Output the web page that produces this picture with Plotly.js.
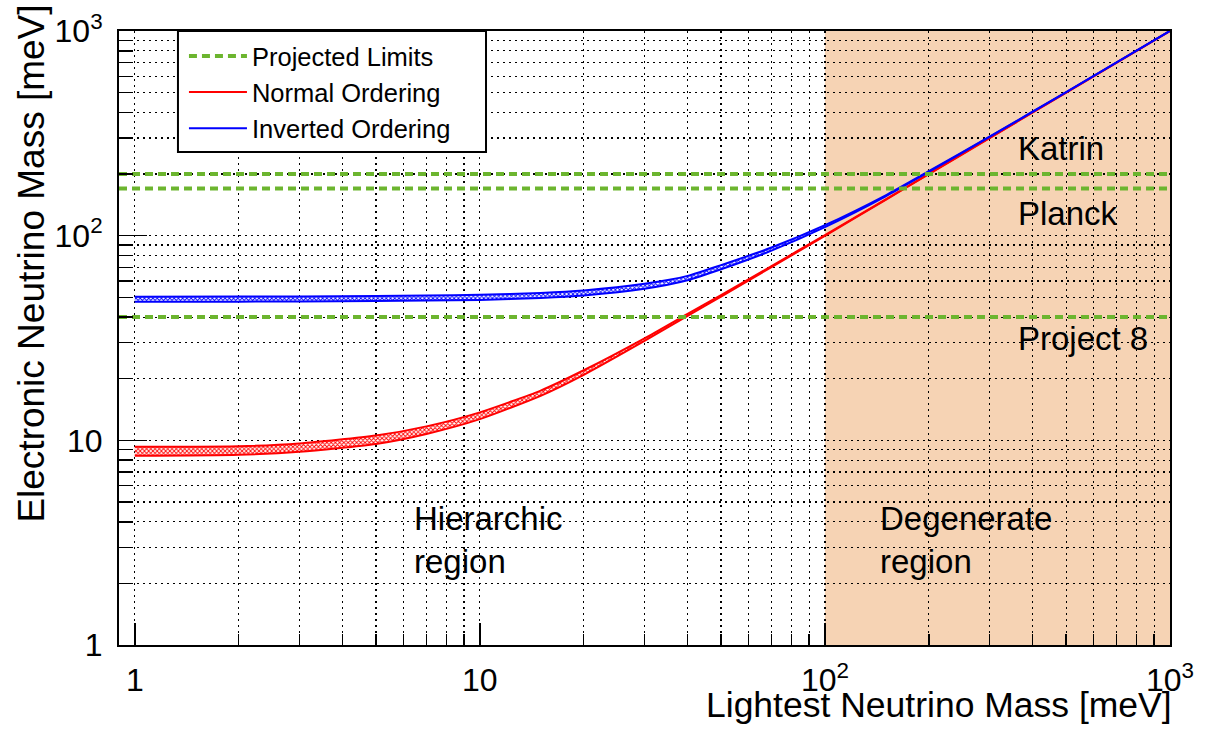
<!DOCTYPE html>
<html>
<head>
<meta charset="utf-8">
<script src="https://cdn.plot.ly/plotly-3.0.1.min.js"></script>
<style>
  html, body { margin: 0; padding: 0; background: #ffffff; }
  #chart { width: 1212px; height: 741px; }
</style>
</head>
<body>
<div id="chart"></div>
<script>
// Lightest neutrino mass [meV] at which the bands are sampled
const lightestMass = [1, 2, 3, 5, 7, 10, 15, 20, 30, 40, 50, 70, 100, 150, 200, 300, 500, 1000];

// Electron neutrino mass band, normal ordering [meV]
const normalLow  = [8.4, 8.5, 8.8, 9.6, 10.75, 12.7, 16.5, 20.9, 30.6, 40.6, 50.4, 70.2, 99.8, 149.7, 199.7, 299.7, 499.7, 999.6];
const normalHigh = [9.3, 9.35, 9.65, 10.55, 11.7, 13.7, 17.5, 22.0, 31.5, 41.5, 51.2, 71.0, 100.7, 150.6, 200.6, 300.6, 500.5, 1000.4];

// Electron neutrino mass band, inverted ordering [meV]
const invertedLow  = [47.5, 47.6, 47.7, 47.9, 48.2, 48.5, 49.6, 51.0, 55.0, 60.5, 68.5, 84.5, 110.0, 155.5, 205.0, 303.5, 502.0, 1000.8];
const invertedHigh = [50.3, 50.4, 50.5, 50.7, 51.0, 51.4, 52.5, 54.0, 58.2, 63.6, 71.8, 87.5, 112.5, 157.5, 206.5, 304.7, 503.0, 1001.5];

// Projected sensitivity limits [meV]
const limitNames  = ['Katrin', 'Planck', 'Project 8'];
const limitValues = [200, 170, 40];

// Axis extents and the degenerate-region span [meV]
const massRange = [0.9, 1000];
const electronMassRange = [1, 1000];
const degenerateRange = [100, 1000];

// Tick marks
const decadeTicks = [1, 10, 100, 1000];
const decadeLabels = ['1', '10', '10<sup>2</sup>', '10<sup>3</sup>'];
const minorTicks = [2, 3, 4, 5, 6, 7, 8, 9, 20, 30, 40, 50, 60, 70, 80, 90, 200, 300, 400, 500, 600, 700, 800, 900];

const FONT = 'Liberation Sans, Arial, Helvetica, sans-serif';
const RED = '#ff0000';
const BLUE = '#0000ff';
const GREEN = '#6cb52f';
const PEACH = '#f6d3b4';
const GRID_DASH = '2px,4px';

const traces = [];

function bandEdge(y, name, color, legend, rank, filled) {
  const t = {
    x: lightestMass, y: y, type: 'scatter', mode: 'lines',
    name: name, showlegend: legend,
    line: { color: color, width: 2, shape: 'spline', smoothing: 0.6 }
  };
  if (rank) t.legendrank = rank;
  if (filled) {
    t.fill = 'tonexty';
    t.fillcolor = color;
    t.fillpattern = { shape: 'x', fgcolor: color, bgcolor: '#ffffff', size: 3, solidity: 0.5 };
  }
  return t;
}

// Normal ordering band
traces.push(bandEdge(normalLow, 'Normal Ordering', RED, true, 2, false));
traces.push(bandEdge(normalHigh, 'Normal Ordering', RED, false, 0, true));

// Inverted ordering band
traces.push(bandEdge(invertedLow, 'Inverted Ordering', BLUE, true, 3, false));
traces.push(bandEdge(invertedHigh, 'Inverted Ordering', BLUE, false, 0, true));

// Projected limits as horizontal dashed lines across the full mass range
limitValues.forEach(function (v, i) {
  traces.push({
    x: massRange, y: [v, v], type: 'scatter', mode: 'lines',
    name: 'Projected Limits', legendgroup: 'limits', legendrank: 1,
    showlegend: i === 0,
    line: { color: GREEN, width: 4, dash: '8px,5px' }
  });
});

function logAxis(range, majorLen, minorLen) {
  return {
    type: 'log',
    range: [Math.log10(range[0]), Math.log10(range[1])],
    tickmode: 'array',
    tickvals: decadeTicks,
    ticktext: decadeLabels,
    ticks: 'inside',
    ticklen: majorLen,
    tickwidth: 1.5,
    tickcolor: '#000000',
    showgrid: true,
    gridcolor: '#000000',
    gridwidth: 1.2,
    griddash: GRID_DASH,
    minor: {
      tickmode: 'array',
      tickvals: minorTicks,
      ticks: 'inside',
      ticklen: minorLen,
      tickwidth: 1.5,
      tickcolor: '#000000',
      showgrid: true,
      gridcolor: '#000000',
      gridwidth: 1.2,
      griddash: GRID_DASH
    },
    showline: true,
    linecolor: '#000000',
    linewidth: 2,
    mirror: true,
    zeroline: false,
    layer: 'above traces',
    tickfont: { family: FONT, size: 32, color: '#000000' }
  };
}

const xaxis = logAxis(massRange, 22, 11);
xaxis.ticklabelstandoff = 6;
const yaxis = logAxis(electronMassRange, 28, 14);
yaxis.ticklabelstandoff = 8;

// Text labels, placed in log10 axis units
const labelFont = { family: FONT, size: 33, color: '#000000' };
const annotations = [
  { text: limitNames[0], x: 2.555, y: 2.428 },
  { text: limitNames[1], x: 2.555, y: 2.108 },
  { text: limitNames[2], x: 2.555, y: 1.497 },
  { text: 'Hierarchic<br>region', x: 0.804, y: 0.511 },
  { text: 'Degenerate<br>region', x: 2.153, y: 0.511 }
].map(function (a) {
  return Object.assign({
    xref: 'x', yref: 'y', xanchor: 'left', yanchor: 'middle', align: 'left',
    showarrow: false, font: labelFont
  }, a);
});

// Axis titles, right/top aligned
annotations.push({
  text: 'Lightest Neutrino Mass [meV]', xref: 'paper', yref: 'paper',
  x: 1, y: -0.0977, xanchor: 'right', yanchor: 'middle', xshift: 4,
  showarrow: false, font: { family: FONT, size: 35.5, color: '#000000' }
});
annotations.push({
  text: 'Electronic Neutrino Mass [meV]', xref: 'paper', yref: 'paper',
  x: -0.1055, y: 1.0456, xanchor: 'left', yanchor: 'top', textangle: -90,
  showarrow: false, font: { family: FONT, size: 37, color: '#000000' }
});

const layout = {
  width: 1212, height: 741,
  margin: { l: 119, r: 42, t: 31, b: 96, pad: 0 },
  paper_bgcolor: '#ffffff',
  plot_bgcolor: '#ffffff',
  font: { family: FONT, color: '#000000' },
  xaxis: xaxis,
  yaxis: yaxis,
  showlegend: true,
  legend: {
    x: 0.0618, y: 0.997, xanchor: 'left', yanchor: 'top',
    bgcolor: 'rgba(0,0,0,0)', borderwidth: 0,
    font: { family: FONT, size: 25.5, color: '#000000' },
    itemwidth: 58,
    traceorder: 'normal',
    tracegroupgap: 0
  },
  shapes: [
    {
      type: 'rect', xref: 'x', yref: 'paper',
      x0: degenerateRange[0], x1: degenerateRange[1], y0: 0, y1: 1,
      fillcolor: PEACH, line: { width: 0 }, layer: 'below'
    },
    // legend frame
    {
      type: 'rect', xref: 'paper', yref: 'paper',
      x0: 0.0561, x1: 0.3492, y0: 0.8029, y1: 1,
      fillcolor: '#ffffff', line: { color: '#000000', width: 2 }, layer: 'above'
    }
  ],
  annotations: annotations
};

Plotly.newPlot('chart', traces, layout, { displayModeBar: false, staticPlot: true });
</script>
</body>
</html>
